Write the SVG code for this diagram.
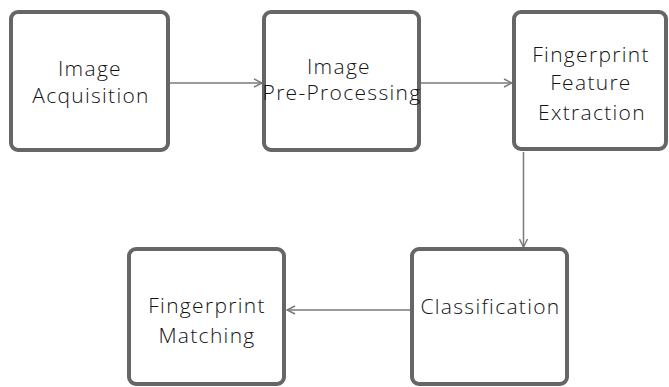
<svg xmlns="http://www.w3.org/2000/svg" width="669" height="387" viewBox="0 0 669 387">
  <defs>
    <marker id="arrow" viewBox="0 0 10 10" refX="9" refY="5" markerWidth="10" markerHeight="10" markerUnits="userSpaceOnUse" orient="auto">
      <path d="M1,1 L9,5 L1,9" fill="none" stroke="#7a7a7a" stroke-width="1.5"/>
    </marker>
  </defs>
  <style>
    .box { fill: #ffffff; stroke: #666666; stroke-width: 4; }
    .label { font-family: "Open Sans", "Liberation Sans", sans-serif; font-weight: 300; font-size: 21px; letter-spacing: 1.3px; fill: #141414; text-anchor: middle; }
    .edge { fill: none; stroke: #7a7a7a; stroke-width: 1.5; marker-end: url(#arrow); }
  </style>
  <rect width="669" height="387" fill="#ffffff"/>

  <g id="connectors">
    <line class="edge" x1="170" y1="83" x2="262" y2="83"/>
    <line class="edge" x1="421" y1="83" x2="512" y2="83"/>
    <line class="edge" x1="523.5" y1="152" x2="523.5" y2="247"/>
    <line class="edge" x1="410" y1="310" x2="287" y2="310"/>
  </g>

  <g id="image-acquisition">
    <rect class="box" x="11" y="12" width="157" height="138" rx="7"/>
    <text class="label" x="90" y="76">Image</text>
    <text class="label" x="91" y="103">Acquisition</text>
  </g>

  <g id="image-preprocessing">
    <rect class="box" x="264" y="12" width="155" height="138" rx="7"/>
    <text class="label" x="339" y="74">Image</text>
    <text class="label" x="342" y="100">Pre-Processing</text>
  </g>

  <g id="feature-extraction">
    <rect class="box" x="514" y="12" width="152" height="137" rx="7"/>
    <text class="label" x="591" y="62">Fingerprint</text>
    <text class="label" x="591" y="90">Feature</text>
    <text class="label" x="592" y="120">Extraction</text>
  </g>

  <g id="classification">
    <rect class="box" x="412" y="249" width="155" height="135" rx="7"/>
    <text class="label" x="490.5" y="314">Classification</text>
  </g>

  <g id="fingerprint-matching">
    <rect class="box" x="129" y="249" width="155" height="135" rx="7"/>
    <text class="label" x="207" y="313">Fingerprint</text>
    <text class="label" x="207" y="343">Matching</text>
  </g>
</svg>
